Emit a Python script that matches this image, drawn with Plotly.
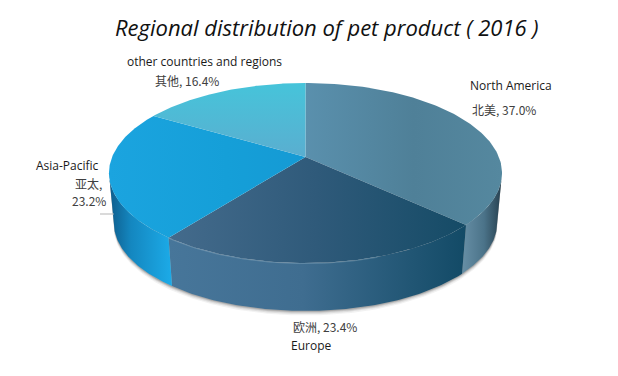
import numpy as np
import plotly.graph_objects as go

title = "Regional distribution of pet product ( 2016 )"
regions_en = ["North America", "Europe", "Asia-Pacific", "other countries and regions"]
regions_zh = ["北美", "欧洲", "亚太", "其他"]
values = [37.0, 23.4, 23.2, 16.4]

top_scales = [
    [[0, "#5a90ad"], [0.55, "#4f8098"], [1, "#55889f"]],
    [[0, "#446b8c"], [0.5, "#2f5a7a"], [1, "#154b66"]],
    [[0, "#1ba4df"], [0.6, "#159fd8"], [1, "#159ad4"]],
    [[0, "#5aaed0"], [1, "#46c4da"]],
]
side_scales = [
    [[0, "#678fa6"], [0.55, "#4b7389"], [1, "#263f4e"]],
    [[0, "#47769a"], [0.45, "#3f6d90"], [1, "#124a66"]],
    [[0, "#0e5c8b"], [0.35, "#1487c0"], [1, "#1cabe8"]],
]

# Projection of the tilted disc onto the page
CX, APEX_Y = 305.5, 157.0
R, B, A = 193.4, 87.2, -0.178
LOWER_SCALE, LOWER_DY = 0.975, 50.5


def rim(fracs, scale=1.0, dy=0.0):
    th = 2 * np.pi * np.asarray(fracs)
    u, v = np.sin(th), -np.cos(th)
    d = 1 + A * v
    return CX + scale * R * u / d, APEX_Y + dy + scale * B * v / d


edges = np.cumsum([0] + values) / sum(values)
extreme = np.arccos(A) / (2 * np.pi)  # fraction where the silhouette is widest
lo, hi = extreme, 1 - extreme
fig = go.Figure()

# soft shadow under the solid
for off, alpha in [(4.5, 0.07), (3.2, 0.11), (2.0, 0.17), (1.0, 0.24)]:
    f = np.linspace(lo, hi, 160)
    x1, y1 = rim(f)
    x2, y2 = rim(f, LOWER_SCALE, LOWER_DY + off)
    fig.add_trace(go.Scatter(
        x=np.r_[x1, x2[::-1]], y=np.r_[y1, y2[::-1]],
        mode="lines", fill="toself", line=dict(width=0),
        fillcolor=f"rgba(70,70,70,{alpha})", hoverinfo="skip", showlegend=False))

# side walls
for i in range(3):
    a, b = max(edges[i], lo), min(edges[i + 1], hi)
    f = np.linspace(a, b, 100)
    x1, y1 = rim(f)
    x2, y2 = rim(f, LOWER_SCALE, LOWER_DY)
    fig.add_trace(go.Scatter(
        x=np.r_[x1, x2[::-1], x1[0]], y=np.r_[y1, y2[::-1], y1[0]],
        mode="lines", fill="toself", line=dict(width=0),
        fillgradient=dict(type="horizontal", colorscale=side_scales[i]),
        hoverinfo="skip", showlegend=False))

# top faces
for i in range(4):
    f = np.linspace(edges[i], edges[i + 1], 120)
    x, y = rim(f)
    fig.add_trace(go.Scatter(
        x=np.r_[CX, x, CX], y=np.r_[APEX_Y, y, APEX_Y],
        mode="lines", fill="toself", line=dict(width=0),
        fillgradient=dict(type="vertical" if i == 3 else "horizontal", colorscale=top_scales[i]),
        hoverinfo="skip", showlegend=False))

# faint highlight on the front rim of Europe
f = np.linspace(edges[1] + 0.08, edges[2], 50)
x, y = rim(f)
fig.add_trace(go.Scatter(x=x, y=y + 0.5, mode="lines",
                         line=dict(color="rgba(190,215,228,0.25)", width=1),
                         hoverinfo="skip", showlegend=False))

EN = dict(family="Open Sans, Noto Sans, sans-serif", size=12, color="#1a1a1a")
ZH = dict(family="Noto Sans CJK SC, Open Sans, sans-serif", size=12, color="#404040")
labels = [
    (511, 85, regions_en[0], EN),
    (504, 109, f"{regions_zh[0]}, {values[0]:.1f}%", ZH),
    (324.5, 326, f"{regions_zh[1]}, {values[1]:.1f}%", ZH),
    (311, 345, regions_en[1], EN),
    (67.5, 165, regions_en[2], EN),
    (88, 183, f"{regions_zh[2]},", ZH),
    (88.5, 200, f"{values[2]:.1f}%", ZH),
    (204.5, 61, regions_en[3], EN),
    (187, 80, f"{regions_zh[3]}, {values[3]:.1f}%", ZH),
]
for lx, ly, text, font in labels:
    fig.add_annotation(x=lx, y=ly, text=text, showarrow=False, font=font,
                       xanchor="center", yanchor="middle")

fig.add_annotation(x=327, y=27, text=f"<i>{title}</i>", showarrow=False,
                   font=dict(family="Open Sans, Noto Sans, sans-serif", size=22, color="#111111"),
                   xanchor="center", yanchor="middle")

# leader line of Asia-Pacific
fig.add_shape(type="line", x0=100, x1=114, y0=214, y1=214,
              line=dict(color="#b5b5b5", width=1))

# The page keeps an 8 px body margin, so the view starts 8 px into the picture
fig.update_layout(
    width=610, height=368, margin=dict(l=0, r=0, t=0, b=0),
    paper_bgcolor="white", plot_bgcolor="white", showlegend=False,
    xaxis=dict(range=[8, 618], visible=False, fixedrange=True),
    yaxis=dict(range=[376, 8], visible=False, fixedrange=True),
)
fig.write_html("out.html", config=dict(displayModeBar=False))
